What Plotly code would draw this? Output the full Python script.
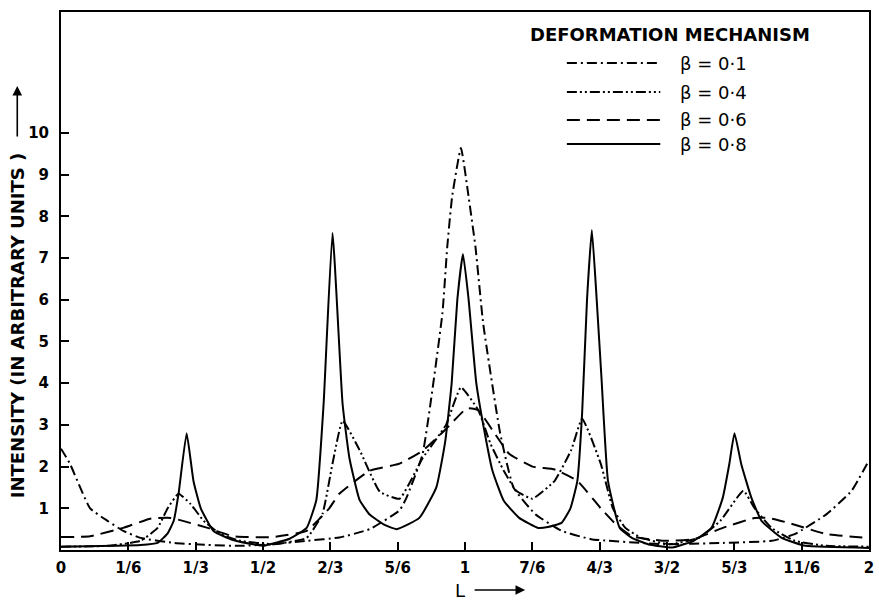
import plotly.graph_objects as go

# ---- data (L, intensity) ----
tick_vals = [0, 1/6, 1/3, 1/2, 2/3, 5/6, 1, 7/6, 4/3, 3/2, 5/3, 11/6, 2]
tick_text = ["0", "1/6", "1/3", "1/2", "2/3", "5/6", "1", "7/6", "4/3", "3/2", "5/3", "11/6", "2"]
y_tick_vals = [1, 2, 3, 4, 5, 6, 7, 8, 9, 10]

L_b01 = [0.0, 0.022, 0.072, 0.115, 0.154, 0.197, 0.279, 0.363, 0.444, 0.525, 0.608, 0.689,
         0.764, 0.838, 0.855, 0.895, 0.944, 0.956, 0.968, 0.99, 1.009, 1.026, 1.045, 1.087,
         1.12, 1.174, 1.239, 1.312, 1.491, 1.638, 1.759, 1.816, 1.895, 1.957, 2.0]
I_b01 = [2.43, 2.07, 1.0, 0.7, 0.46, 0.29, 0.17, 0.12, 0.1, 0.14, 0.22, 0.3,
         0.5, 0.95, 1.25, 2.3, 5.67, 7.26, 8.46, 9.64, 8.46, 7.26, 5.43, 2.8,
         1.5, 0.86, 0.46, 0.26, 0.14, 0.17, 0.22, 0.38, 0.86, 1.42, 2.15]

L_b04 = [0.0, 0.115, 0.197, 0.239, 0.264, 0.291, 0.321, 0.353, 0.395, 0.444, 0.525, 0.608,
         0.647, 0.672, 0.697, 0.739, 0.789, 0.838, 0.895, 0.953, 0.99, 1.033, 1.063, 1.096,
         1.127, 1.167, 1.222, 1.263, 1.29, 1.336, 1.366, 1.397, 1.437, 1.507, 1.579, 1.632,
         1.689, 1.717, 1.759, 1.816, 1.895, 2.0]
I_b04 = [0.08, 0.1, 0.22, 0.53, 1.0, 1.35, 1.1, 0.7, 0.38, 0.22, 0.14, 0.29,
         0.86, 2.07, 3.1, 2.4, 1.4, 1.23, 2.2, 3.0, 3.9, 3.35, 2.55, 1.9,
         1.42, 1.23, 1.66, 2.4, 3.15, 2.07, 1.0, 0.53, 0.29, 0.14, 0.29, 0.7,
         1.42, 1.0, 0.53, 0.22, 0.1, 0.08]

L_b06 = [0.0, 0.072, 0.154, 0.221, 0.271, 0.363, 0.426, 0.525, 0.608, 0.664, 0.689, 0.764,
         0.838, 0.895, 0.953, 1.005, 1.033, 1.073, 1.11, 1.167, 1.222, 1.278, 1.336, 1.373,
         1.413, 1.491, 1.566, 1.638, 1.717, 1.751, 1.801, 1.895, 2.0]
I_b06 = [0.31, 0.33, 0.53, 0.75, 0.77, 0.53, 0.33, 0.31, 0.46, 1.0, 1.35, 1.9,
         2.07, 2.38, 2.9, 3.4, 3.35, 2.8, 2.3, 2.0, 1.93, 1.66, 1.0, 0.62,
         0.33, 0.22, 0.26, 0.53, 0.77, 0.77, 0.65, 0.38, 0.29]

L_b08 = [0.0, 0.197, 0.239, 0.264, 0.279, 0.291, 0.311, 0.328, 0.346, 0.378, 0.426, 0.485,
         0.5, 0.566, 0.608, 0.632, 0.650, 0.672, 0.697, 0.714, 0.739, 0.764, 0.801, 0.831,
         0.887, 0.929, 0.951, 0.967, 0.981, 0.995, 1.009, 1.028, 1.049, 1.068, 1.096, 1.134,
         1.181, 1.205, 1.239, 1.261, 1.278, 1.29, 1.302, 1.314, 1.326, 1.338, 1.354, 1.383,
         1.413, 1.453, 1.513, 1.566, 1.61, 1.638, 1.654, 1.667, 1.684, 1.709, 1.734, 1.784,
         1.843, 2.0]
I_b08 = [0.08, 0.12, 0.17, 0.4, 0.7, 1.35, 2.8, 1.65, 1.0, 0.45, 0.24, 0.12,
         0.1, 0.27, 0.53, 1.2, 3.5, 7.6, 3.5, 2.2, 1.2, 0.85, 0.6, 0.5,
         0.77, 1.5, 2.6, 4.0, 6.0, 7.1, 6.0, 4.0, 2.8, 1.9, 1.18, 0.77,
         0.53, 0.55, 0.65, 1.0, 1.65, 3.3, 6.0, 7.67, 6.0, 4.1, 1.65, 0.53,
         0.29, 0.14, 0.06, 0.22, 0.53, 1.25, 2.05, 2.8, 2.05, 1.25, 0.7, 0.29,
         0.1, 0.05]

series = [
    ("β = 0·1", L_b01, I_b01, "10px,4px,2px,4px"),
    ("β = 0·4", L_b04, I_b04, "10px,3px,2px,3px,2px,3px"),
    ("β = 0·6", L_b06, I_b06, "13px,7px"),
    ("β = 0·8", L_b08, I_b08, "solid"),
]

FONT = "DejaVu Sans"
fig = go.Figure()
for name, xs, ys, dash in series:
    fig.add_trace(go.Scatter(x=xs, y=ys, mode="lines", name=name, showlegend=False,
                             line=dict(color="black", width=2, dash=dash,
                                       shape="spline", smoothing=0.4)))

# plot area: x 61..874 px, y 12..550 px
W, H = 879, 608
L_, R_, T_, B_ = 61, 5, 12, 58
pw, ph = W - L_ - R_, H - T_ - B_

def px(x):
    return (x - L_) / pw

def py(y):
    return (H - B_ - y) / ph

shapes = []
annotations = []
# custom legend
annotations.append(dict(text="DEFORMATION MECHANISM", x=px(674), y=py(35), xref="paper", yref="paper",
                        showarrow=False, xanchor="center", yanchor="middle",
                        font=dict(family=FONT, size=18, color="black", weight="bold")))
leg_y = [63, 92, 120, 144]
for (name, xs, ys, dash), yy in zip(series, leg_y):
    shapes.append(dict(type="line", xref="paper", yref="paper", x0=px(570), x1=px(664),
                       y0=py(yy), y1=py(yy), line=dict(color="black", width=2, dash=dash)))
    annotations.append(dict(text=name, x=px(682), y=py(yy), xref="paper", yref="paper",
                            showarrow=False, xanchor="left", yanchor="middle",
                            font=dict(family=FONT, size=18, color="black")))

# y-axis title with arrow
annotations.append(dict(text="INTENSITY (IN ARBITRARY UNITS )", textangle=-90,
                        x=px(17), y=py(326), xref="paper", yref="paper", showarrow=False,
                        xanchor="center", yanchor="middle",
                        font=dict(family=FONT, size=18, color="black", weight="bold")))
annotations.append(dict(text="", x=px(17), y=py(86), xref="paper", yref="paper",
                        showarrow=True, ax=0, ay=52, arrowhead=2, arrowsize=1.2,
                        arrowwidth=1.6, arrowcolor="black"))
# x-axis title with arrow
annotations.append(dict(text="L", x=px(462), y=py(590), xref="paper", yref="paper",
                        showarrow=False, xanchor="center", yanchor="middle",
                        font=dict(family=FONT, size=18, color="black")))
annotations.append(dict(text="", x=px(528), y=py(590), xref="paper", yref="paper",
                        showarrow=True, ax=-52, ay=0, arrowhead=2, arrowsize=1.2,
                        arrowwidth=1.6, arrowcolor="black"))

fig.update_layout(
    width=W, height=H,
    margin=dict(l=L_, r=R_, t=T_, b=B_, pad=0),
    paper_bgcolor="white", plot_bgcolor="white",
    shapes=shapes, annotations=annotations,
    font=dict(family=FONT, color="black"),
)
fig.update_xaxes(range=[0, 2], tickvals=tick_vals, ticktext=tick_text,
                 ticks="inside", ticklen=8, tickwidth=1.5, tickcolor="black",
                 showline=True, linewidth=2, linecolor="black", mirror=True,
                 showgrid=False, zeroline=False, ticklabelstandoff=3,
                 tickfont=dict(family=FONT, size=15, color="black", weight="bold"))
fig.update_yaxes(range=[0, 12.9], tickvals=y_tick_vals,
                 ticks="inside", ticklen=8, tickwidth=1.5, tickcolor="black",
                 showline=True, linewidth=2, linecolor="black", mirror=True,
                 showgrid=False, zeroline=False, ticklabelstandoff=7,
                 tickfont=dict(family=FONT, size=15, color="black", weight="bold"))

fig.write_html("out.html")
